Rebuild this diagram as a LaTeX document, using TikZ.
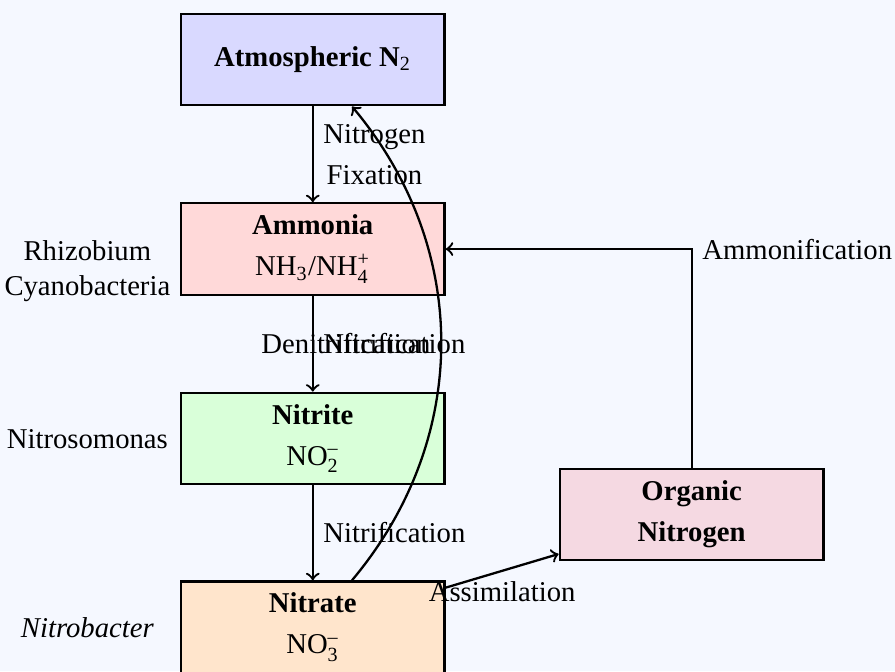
\documentclass[tikz,border=0pt]{standalone}
\usepackage{amsmath}
\usepackage{fontspec}
\setmainfont{Liberation Serif}
\usetikzlibrary{positioning}
\definecolor{cyclebg}{HTML}{F5F8FF}

\begin{document}
\begin{tikzpicture}[
    >=To,
    species/.style={
        draw=black,
        rectangle,
        thick,
        minimum width=3.23cm,
        minimum height=1.12cm,
        align=center
    },
    microbe/.style={align=center},
    flow/.style={->,thick}
]

% Page and background
\fill[cyclebg] (0,0) rectangle (10.96,-8.22);
\useasboundingbox (0,0) rectangle (10.96,-8.22);

% Nitrogen pools
\node[species,fill=blue!15] (atm) at (3.83,-0.73) {\textbf{Atmospheric N}$_{\text{2}}$};
\node[species,fill=red!15] (amm) at (3.83,-3.05) {
    \textbf{Ammonia}\\[2.3pt]
    NH\textsubscript{3}/NH$^{\text{+}}_{\text{4}}$
};
\node[species,fill=green!15] (nitrite) at (3.83,-5.37) {
    \textbf{Nitrite}\\[2.3pt]
    NO$^{\text{--}}_{\text{2}}$
};
\node[species,fill=orange!20] (nitrate) at (3.83,-7.68) {
    \textbf{Nitrate}\\[2.3pt]
    NO$^{\text{--}}_{\text{3}}$
};
\node[species,fill=purple!15] (organic) at (8.47,-6.30) {
    \textbf{Organic}\\[2.3pt]
    \textbf{Nitrogen}
};

% Microorganisms
\node[microbe] (rhizo) at (1.07,-3.32) {Rhizobium\\Cyanobacteria};
\node[microbe] (nitroso) at (1.07,-5.38) {Nitrosomonas};
\node[microbe] (nitrobac) at (1.07,-7.69) {\textit{Nitrobacter}};

% Main cycle
\draw[flow] (atm) -- node[right,align=center] {Nitrogen\\[2.3pt]Fixation} (amm);
\draw[flow] (amm) -- node[right] {Nitrification} (nitrite);
\draw[flow] (nitrite) -- node[right] {Nitrification} (nitrate);
\draw[flow] (nitrate) -- node[below] {Assimilation} (organic);
\draw[flow] (organic) |- node[right] {Ammonification} (amm);

% Back to the atmosphere
\draw[flow] (nitrate) to[bend right=40] node[left] {Denitrification} (atm);

\end{tikzpicture}
\end{document}
